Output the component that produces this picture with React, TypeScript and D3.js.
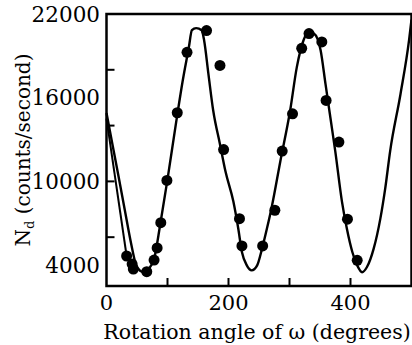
import { useEffect, useRef } from 'react';
import * as d3 from 'd3';

// fitted curve
const curveAngles = [0, 10, 20, 30, 40, 48, 55, 62, 70, 78, 88, 100, 115, 125, 135, 140, 147, 156, 160, 167, 175, 186, 195, 208, 216, 222, 230, 238, 247, 255, 263, 271, 285, 301, 312, 323, 331, 340, 351, 359, 367, 375, 386, 394, 403, 411, 419, 427, 438, 449, 457, 465, 482, 496, 500];
const curveCounts = [14900, 12600, 10290, 7950, 5620, 4070, 3600, 3490, 3780, 4430, 6890, 10140, 14480, 17230, 19610, 20840, 20990, 20840, 20120, 17730, 15060, 12670, 10720, 8550, 6620, 4940, 3980, 3620, 3980, 5180, 6620, 8190, 11450, 15060, 18190, 20120, 20720, 20600, 19400, 16990, 14580, 12170, 8550, 6620, 4940, 3980, 3490, 3860, 5180, 7350, 9520, 12170, 16270, 20120, 21600];

// short straight line at the left edge
const leadAngles = [0, 33];
const leadCounts = [14500, 4650];

// measured points
const pointAngles = [33, 42, 44, 66, 78, 83, 89, 99, 116, 132, 164, 186, 192, 218, 222, 256, 276, 288, 305, 320, 332, 353, 360, 381, 395, 411];
const pointCounts = [4650, 4070, 3710, 3530, 4360, 5230, 7040, 10070, 14920, 19250, 20810, 18310, 12280, 7330, 5370, 5370, 7930, 12170, 14840, 19540, 20600, 20000, 15800, 12820, 7290, 4340];

const xTickLabels = [0, 200, 400];
const xTickMarks = [100, 200, 300, 400];
const yTickLabels = [22000, 16000, 10000, 4000];
const yTickMarks = [18000, 14000, 10000, 6000];

export default function App() {
    const svgRef = useRef<SVGSVGElement>(null);
    const width = 412;
    const height = 345;

    useEffect(() => {
        if (!svgRef.current) return;
        const svg = d3.select(svgRef.current);
        svg.selectAll("*").remove();

        const left = 106.5, right = 411.5, top = 14, bottom = 286;
        const font = "'DejaVu Serif', serif";

        const x = d3.scaleLinear().domain([0, 500]).range([left, right]);
        const y = d3.scaleLinear().domain([2500, 22000]).range([bottom, top]);

        // curve
        const curveData = curveAngles.map((a, i) => [a, curveCounts[i]] as [number, number]);
        const line = d3.line<[number, number]>()
            .x(d => x(d[0]))
            .y(d => y(d[1]))
            .curve(d3.curveMonotoneX);

        svg.append("path")
            .datum(curveData)
            .attr("fill", "none")
            .attr("stroke", "#000")
            .attr("stroke-width", 2.4)
            .attr("d", line);

        const leadData = leadAngles.map((a, i) => [a, leadCounts[i]] as [number, number]);
        svg.append("path")
            .datum(leadData)
            .attr("fill", "none")
            .attr("stroke", "#000")
            .attr("stroke-width", 2)
            .attr("d", d3.line<[number, number]>().x(d => x(d[0])).y(d => y(d[1])));

        // points
        svg.selectAll(".pt")
            .data(pointAngles.map((a, i) => [a, pointCounts[i]]))
            .enter()
            .append("circle")
            .attr("class", "pt")
            .attr("cx", d => x(d[0]))
            .attr("cy", d => y(d[1]))
            .attr("r", 5.5)
            .attr("fill", "#000");

        // frame
        svg.append("rect")
            .attr("x", left)
            .attr("y", top)
            .attr("width", right - left)
            .attr("height", bottom - top)
            .attr("fill", "none")
            .attr("stroke", "#000")
            .attr("stroke-width", 2.5);

        // inner ticks
        svg.selectAll(".xt")
            .data(xTickMarks)
            .enter()
            .append("line")
            .attr("x1", d => x(d))
            .attr("x2", d => x(d))
            .attr("y1", bottom)
            .attr("y2", bottom - 8)
            .attr("stroke", "#000")
            .attr("stroke-width", 2);

        svg.selectAll(".yt")
            .data(yTickMarks)
            .enter()
            .append("line")
            .attr("x1", left)
            .attr("x2", left + 8)
            .attr("y1", d => y(d))
            .attr("y2", d => y(d))
            .attr("stroke", "#000")
            .attr("stroke-width", 2);

        // tick labels
        svg.selectAll(".xl")
            .data(xTickLabels)
            .enter()
            .append("text")
            .attr("x", d => x(d))
            .attr("y", 309.5)
            .attr("text-anchor", "middle")
            .style("font-family", font)
            .style("font-size", "21px")
            .text(d => d);

        svg.selectAll(".yl")
            .data(yTickLabels)
            .enter()
            .append("text")
            .attr("x", 100)
            .attr("y", d => y(d))
            .attr("dy", "0.36em")
            .attr("text-anchor", "end")
            .style("font-family", font)
            .style("font-size", "21.5px")
            .text(d => d);

        // axis titles
        svg.append("text")
            .attr("x", 257)
            .attr("y", 339)
            .attr("text-anchor", "middle")
            .style("font-family", font)
            .style("font-size", "20.5px")
            .text("Rotation angle of ω (degrees)");

        const yt = svg.append("text")
            .attr("transform", "translate(30,150) rotate(-90)")
            .attr("text-anchor", "middle")
            .style("font-family", font)
            .style("font-size", "20px");
        yt.append("tspan").text("N");
        yt.append("tspan").attr("dy", 4).style("font-size", "13px").text("d");
        yt.append("tspan").attr("dy", -4).text(" (counts/second)");
    }, []);

    return (
        <svg
            ref={svgRef}
            width={width}
            height={height}
            style={{ position: 'absolute', left: 0, top: 0, background: '#fff' }}
        />
    );
}
